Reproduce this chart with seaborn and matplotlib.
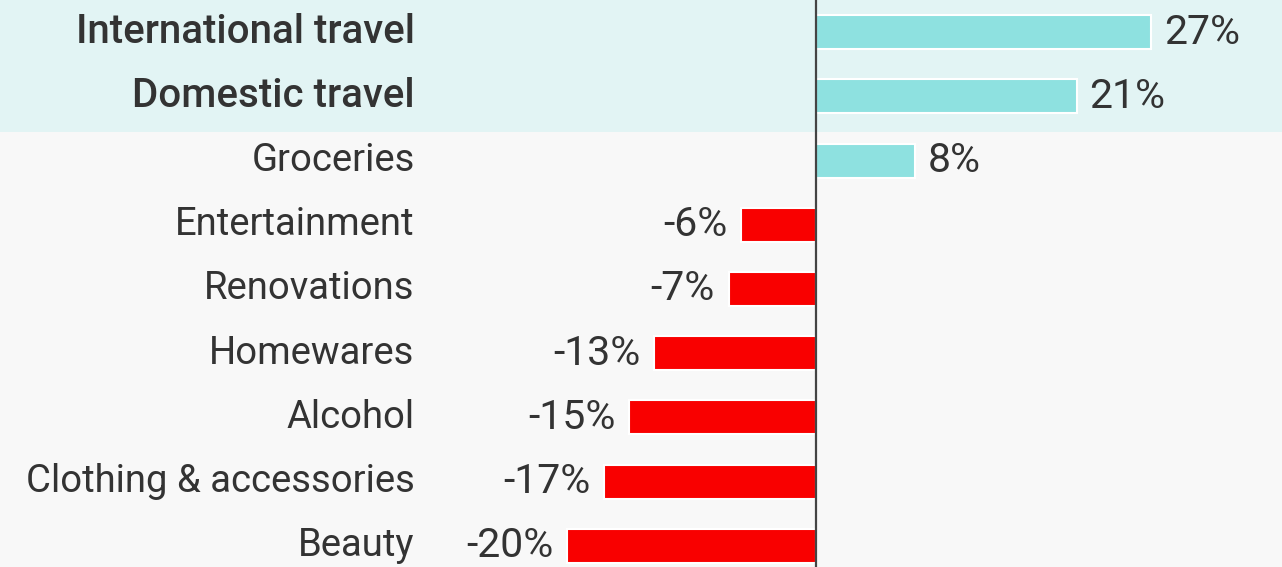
import numpy as np
import pandas as pd
import matplotlib.pyplot as plt
import matplotlib.transforms as mtransforms
import seaborn as sns

categories = ["International travel", "Domestic travel", "Groceries", "Entertainment",
              "Renovations", "Homewares", "Alcohol", "Clothing & accessories", "Beauty"]
values = [27, 21, 8, -6, -7, -13, -15, -17, -20]
highlighted = ["International travel", "Domestic travel"]

pos_color = "#8ee1e0"
neg_color = "#f90000"
text_color = "#333333"

df = pd.DataFrame({"category": categories, "value": values})
colors = [pos_color if v > 0 else neg_color for v in values]

sns.set_style("white")
plt.rcParams['font.family'] = ['Roboto', 'DejaVu Sans']

fig = plt.figure(figsize=(12.82, 5.67), dpi=100)
fig.patch.set_facecolor("#f8f8f8")
ax = fig.add_axes([0, 0, 1, 1])
ax.set_facecolor("#f8f8f8")

# highlighted band behind the travel rows
ax.axhspan(-0.5, 1.56, color="#e2f4f4", zorder=0, lw=0)

sns.barplot(data=df, x="value", y="category", hue="category", palette=colors,
            legend=False, orient="h", width=0.53, saturation=1,
            edgecolor="white", linewidth=1.5, ax=ax, zorder=2)

ax.axvline(0, color="#444444", lw=1.6, zorder=3)

ax.set_xlim(-65.6, 37.5)
ax.set_ylim(8.33, -0.5)
ax.set_xlabel("")
ax.set_ylabel("")
ax.set_xticks([])
ax.set_yticks([])
for s in ax.spines.values():
    s.set_visible(False)

trans = mtransforms.blended_transform_factory(ax.transAxes, ax.transData)
for i, (cat, v) in enumerate(zip(categories, values)):
    hl = cat in highlighted
    ax.text(0.3235, i, cat, transform=trans, ha="right", va="center",
            fontsize=29 if hl else 27.5, color=text_color,
            fontweight="medium" if hl else "normal")
    if v > 0:
        ax.text(v + 1.0, i, f"{v}%", ha="left", va="center", fontsize=29.5,
                color=text_color)
    else:
        ax.text(v - 1.1, i, f"{v}%", ha="right", va="center", fontsize=29.5,
                color=text_color)

fig.savefig("out.png", dpi=100, facecolor=fig.get_facecolor())
